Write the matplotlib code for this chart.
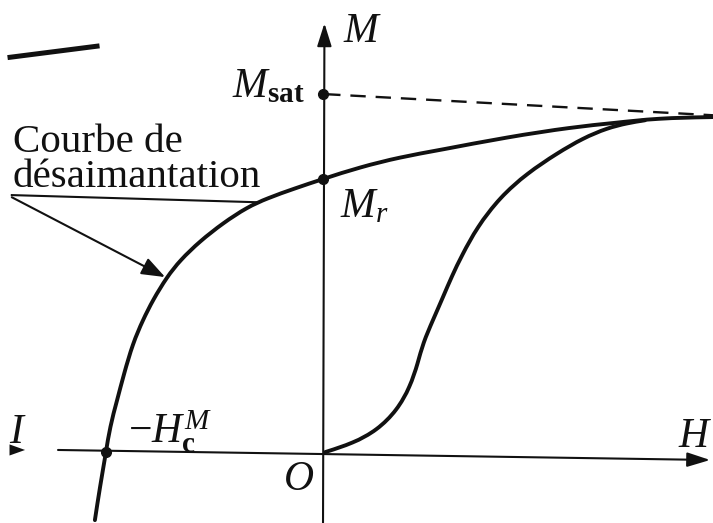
import matplotlib
matplotlib.use("Agg")
import matplotlib.pyplot as plt
from matplotlib.path import Path
from matplotlib.patches import PathPatch

plt.rcParams["mathtext.fontset"] = "custom"
plt.rcParams["mathtext.rm"] = "Liberation Serif"
plt.rcParams["mathtext.it"] = "Liberation Serif:italic"
plt.rcParams["mathtext.bf"] = "Liberation Serif:bold"

# Magnetisation M (normalised to M_sat) against field H, same units on both axes
# Demagnetisation curve (descending branch), from below -Hc up to saturation
demag_H = [-0.637, -0.623, -0.606, -0.595, -0.575, -0.556, -0.531, -0.503, -0.475,
           -0.436, -0.399, -0.344, -0.279, -0.212, -0.156, -0.078, 0.000, 0.103,
           0.215, 0.327, 0.514, 0.698, 0.810, 0.933, 1.089]
demag_M = [-0.190, -0.098, 0.000, 0.070, 0.145, 0.218, 0.304, 0.369, 0.425,
           0.489, 0.536, 0.589, 0.640, 0.684, 0.709, 0.737, 0.763, 0.796,
           0.824, 0.844, 0.880, 0.908, 0.919, 0.933, 0.936]

# First magnetisation curve, from the origin up to where it joins the loop
first_H = [0.006, 0.084, 0.151, 0.207, 0.243, 0.265, 0.279, 0.307, 0.335, 0.360,
           0.388, 0.430, 0.494, 0.570, 0.654, 0.726, 0.793, 0.849, 0.899]
first_M = [0.000, 0.025, 0.061, 0.117, 0.182, 0.249, 0.304, 0.369, 0.433, 0.492,
           0.550, 0.628, 0.712, 0.779, 0.835, 0.877, 0.905, 0.919, 0.927]

# Saturation asymptote
sat_H = [0.006, 1.089]
sat_M = [1.000, 0.941]

# Remarkable points
M_sat = 1.000
M_r = 0.763
H_c = 0.606

ink = "#111111"


def smooth_path(xs, ys):
    """Uniform cubic B-spline through the sampled points, clamped at both ends."""
    pts = list(zip(xs, ys))
    pts = [pts[0], pts[0]] + pts + [pts[-1], pts[-1]]
    verts, codes = [], []
    for i in range(1, len(pts) - 2):
        p0, p1, p2, p3 = pts[i - 1], pts[i], pts[i + 1], pts[i + 2]
        b0 = ((p0[0] + 4 * p1[0] + p2[0]) / 6, (p0[1] + 4 * p1[1] + p2[1]) / 6)
        b1 = ((2 * p1[0] + p2[0]) / 3, (2 * p1[1] + p2[1]) / 3)
        b2 = ((p1[0] + 2 * p2[0]) / 3, (p1[1] + 2 * p2[1]) / 3)
        b3 = ((p1[0] + 4 * p2[0] + p3[0]) / 6, (p1[1] + 4 * p2[1] + p3[1]) / 6)
        if not verts:
            verts.append(b0)
            codes.append(Path.MOVETO)
        verts += [b1, b2, b3]
        codes += [Path.CURVE4] * 3
    return Path(verts, codes)


fig = plt.figure(figsize=(7.13, 5.23), dpi=100)
ax = fig.add_axes([0, 0, 1, 1])
ax.set_xlim(-0.902, 1.089)
ax.set_ylim(-0.198, 1.263)
ax.axis("off")

# Axes with arrows
axis_style = dict(arrowstyle="-|>,head_length=0.7,head_width=0.22", color=ink,
                  lw=1.5, shrinkA=0, shrinkB=0, mutation_scale=20)
ax.annotate("", xy=(1.081, -0.022), xytext=(-0.740, 0.006), arrowprops=axis_style)
ax.annotate("", xy=(0.004, 1.198), xytext=(0.0, -0.198), arrowprops=axis_style)

# Curves
ax.plot(sat_H, sat_M, color=ink, lw=1.7, dashes=(6.5, 4.2))
for hs, ms in ((demag_H, demag_M), (first_H, first_M)):
    ax.add_patch(PathPatch(smooth_path(hs, ms), facecolor="none", edgecolor=ink,
                           lw=2.8, capstyle="round", joinstyle="round"))

# Points on the axes
ax.plot([0, 0, -H_c], [M_sat, M_r, 0], "o", color=ink, ms=7)

# Labels
big = 30
ax.text(0.056, 1.145, r"$M$", fontsize=big, color=ink, va="baseline")
ax.text(-0.254, 0.992, r"$M_{\mathbf{sat}}$", fontsize=big, color=ink, va="baseline")
ax.text(0.047, 0.656, r"$M_r$", fontsize=big, color=ink, va="baseline")
ax.text(-0.545, 0.025, r"$-H_{\mathbf{c}}^{M}$", fontsize=big, color=ink, va="baseline")
ax.text(-0.112, -0.106, r"$O$", fontsize=big, color=ink, va="baseline")
ax.text(0.992, 0.014, r"$H$", fontsize=big, color=ink, va="baseline")

ax.text(-0.866, 0.838, "Courbe de", fontsize=29.5, family="Liberation Serif",
        color=ink, va="baseline")
ax.text(-0.866, 0.740, "désaimantation", fontsize=29.5, family="Liberation Serif",
        color=ink, va="baseline")

# Leader lines from the caption to the curve
ax.plot([-0.869, -0.182], [0.718, 0.698], color=ink, lw=1.5)
ax.annotate("", xy=(-0.441, 0.489), xytext=(-0.869, 0.712),
            arrowprops=dict(arrowstyle="-|>,head_length=0.8,head_width=0.3",
                            color=ink, lw=1.5, shrinkA=0, shrinkB=0,
                            mutation_scale=18))

# Fragments of the neighbouring figure at the left edge
ax.plot([-0.874, -0.631], [1.103, 1.134], color=ink, lw=3.6)
ax.annotate("", xy=(-0.832, 0.006), xytext=(-0.869, 0.006),
            arrowprops=dict(arrowstyle="-|>,head_length=0.7,head_width=0.25",
                            color=ink, lw=0, shrinkA=0, shrinkB=0,
                            mutation_scale=16))
ax.text(-0.878, 0.025, r"$I$", fontsize=big, color=ink, va="baseline")

fig.savefig("out.png", dpi=100, facecolor="white")
